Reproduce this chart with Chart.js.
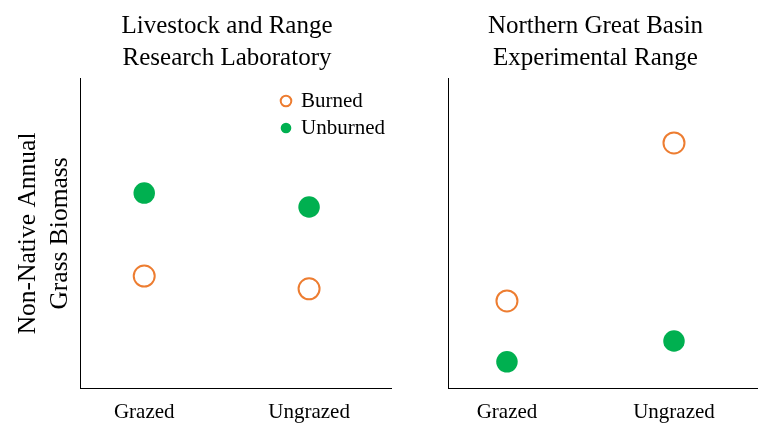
<!DOCTYPE html>
<html>
<head>
<meta charset="utf-8">
<script src="https://cdn.jsdelivr.net/npm/chart.js@4.4.1/dist/chart.umd.min.js"></script>
<style>
body{margin:0;background:#fff;width:758px;height:424px;overflow:hidden;position:relative;font-family:"Liberation Serif","Times New Roman",serif;}
.panel{position:absolute;top:0;height:437px;}
#p1{left:0;width:400px;}
#p2{left:400px;width:358px;}
.ttl{position:absolute;top:9px;width:300px;text-align:center;font-size:25px;line-height:32px;color:#000;}
</style>
</head>
<body>

<div class="panel" id="p1"><canvas id="c1" width="400" height="437"></canvas></div>
<div class="panel" id="p2"><canvas id="c2" width="358" height="437"></canvas></div>

<div class="ttl" style="left:77px">Livestock and Range<br>Research Laboratory</div>
<div class="ttl" style="left:445.5px">Northern Great Basin<br>Experimental Range</div>

<script>

// =========================
// Data
// =========================

const categories = ["Grazed", "Ungrazed"];
const seriesNames = ["Burned", "Unburned"];
const yTitle = ["Non-Native Annual", "Grass Biomass"];

// Livestock and Range Research Laboratory
const llrlBurned   = [3.63, 3.22];
const llrlUnburned = [6.30, 5.85];

// Northern Great Basin Experimental Range
const ngbBurned    = [2.83, 7.91];
const ngbUnburned  = [0.87, 1.54];

const FONT = "'Liberation Serif','Times New Roman',serif";
const ORANGE = "#ED7D31";
const GREEN = "#00B050";


// =========================
// Legend inside plot area
// =========================

const floatLegend = {

    id:"floatLegend",

    beforeLayout(chart){
        const lg = chart.legend;
        if(!lg || lg._floatPatched) return;
        const fit = lg.fit;
        lg.fit = function(){
            fit.call(this);
            this._fw = this.width;
            this.width = 0;
            this.height = 0;
        };
        lg._floatPatched = true;
    },

    afterLayout(chart, args, o){
        const lg = chart.legend;
        if(!lg || !lg.options.display) return;
        lg.left = o.x;
        lg.top = o.y;
        lg.width = lg._fw;
        lg.height = 70;
        lg.right = lg.left + lg.width;
        lg.bottom = lg.top + lg.height;
    }

};


// =========================
// Helpers
// =========================

function points(vals){
    return vals.map((v,i)=>({x:i, y:v}));
}

function makeSets(burned, unburned){
    return [
        {
            label:seriesNames[0],
            data:points(burned),
            pointStyle:"circle",
            backgroundColor:"#ffffff",
            borderColor:ORANGE,
            borderWidth:2,
            pointRadius:10.5,
            pointHoverRadius:10.5
        },
        {
            label:seriesNames[1],
            data:points(unburned),
            pointStyle:"circle",
            backgroundColor:GREEN,
            borderColor:GREEN,
            borderWidth:0,
            pointRadius:10.75,
            pointHoverRadius:10.75
        }
    ];
}

function makeOptions(xMin, xMax, showYTitle, showLegend, padLeft, padRight){
    return {
        responsive:false,
        animation:false,
        layout:{autoPadding:false, padding:{top:78, left:padLeft, right:padRight, bottom:0}},
        scales:{
            x:{
                type:"linear",
                min:xMin,
                max:xMax,
                grid:{display:false, drawTicks:false},
                border:{display:true, color:"#000", width:1},
                afterBuildTicks(axis){
                    axis.ticks = categories.map((c,i)=>({value:i}));
                },
                ticks:{
                    padding:12.5,
                    color:"#000",
                    maxRotation:0,
                    font:{family:FONT, size:21, lineHeight:1.1},
                    callback:(v)=>categories[v]
                }
            },
            y:{
                min:0,
                max:10,
                grid:{display:false, drawTicks:false},
                border:{display:true, color:"#000", width:1},
                ticks:{display:false},
                title:{
                    display:showYTitle,
                    text:yTitle,
                    color:"#000",
                    font:{family:FONT, size:25.5, lineHeight:1.26},
                    padding:{top:12, bottom:4}
                }
            }
        },
        plugins:{
            legend:{
                display:showLegend,
                position:"left",
                align:"start",
                maxWidth:200,
                labels:{
                    usePointStyle:true,
                    boxWidth:9,
                    boxHeight:7.5,
                    padding:6,
                    color:"#000",
                    font:{family:FONT, size:21}
                }
            },
            tooltip:{enabled:false},
            floatLegend:{x:275.5, y:84.5}
        }
    };
}


// =========================
// Charts
// =========================

new Chart(document.getElementById("c1"), {
    type:"scatter",
    data:{datasets:makeSets(llrlBurned, llrlUnburned)},
    options:makeOptions(-0.388, 1.497, true, true, 0, 9),
    plugins:[floatLegend]
});

new Chart(document.getElementById("c2"), {
    type:"scatter",
    data:{datasets:makeSets(ngbBurned, ngbUnburned)},
    options:makeOptions(-0.353, 1.503, false, false, 48, 0),
    plugins:[floatLegend]
});

</script>
</body>
</html>
